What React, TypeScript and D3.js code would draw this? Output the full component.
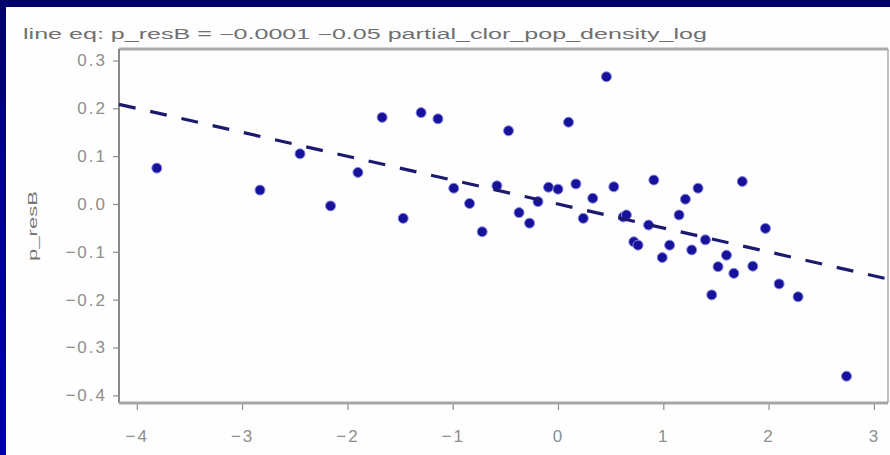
import React, { useEffect, useRef } from "react";
import * as d3 from "d3";

// partial residual points
const xVals = [
  -3.81, -2.83, -2.45, -2.16, -1.9, -1.67, -1.47, -1.3, -1.14, -0.99, -0.84,
  -0.72, -0.58, -0.47, -0.37, -0.27, -0.19, -0.09, 0.0, 0.1, 0.17, 0.24, 0.33,
  0.46, 0.53, 0.62, 0.65, 0.72, 0.76, 0.86, 0.91, 0.99, 1.06, 1.15, 1.21, 1.27,
  1.33, 1.4, 1.46, 1.52, 1.6, 1.67, 1.75, 1.85, 1.97, 2.1, 2.28, 2.74,
];
const yVals = [
  0.075, 0.029, 0.105, -0.004, 0.066, 0.181, -0.03, 0.191, 0.178, 0.033, 0.001,
  -0.058, 0.038, 0.153, -0.018, -0.04, 0.005, 0.035, 0.031, 0.171, 0.042, -0.03,
  0.012, 0.266, 0.036, -0.027, -0.023, -0.079, -0.086, -0.044, 0.05, -0.112,
  -0.086, -0.023, 0.01, -0.096, 0.033, -0.075, -0.19, -0.131, -0.107, -0.145,
  0.047, -0.13, -0.051, -0.167, -0.194, -0.36,
];
const yTicks = [0.3, 0.2, 0.1, 0.0, -0.1, -0.2, -0.3, -0.4];
const xTicks = [-4, -3, -2, -1, 0, 1, 2, 3];
const intercept = -0.0001;
const slope = -0.05;
const title =
  "line eq:  p_resB = \u22120.0001  \u22120.05 partial_clor_pop_density_log";

export default function App() {
  const ref = useRef<SVGSVGElement>(null);

  useEffect(() => {
    const svg = d3.select(ref.current);
    svg.selectAll("*").remove();

    const width = 890;
    const height = 455;
    const margin = { top: 49, left: 119, bottom: 52, right: 2 };

    const x = d3
      .scaleLinear()
      .domain([-4.169, 3.134])
      .range([margin.left, width - margin.right]);
    const y = d3
      .scaleLinear()
      .domain([-0.416, 0.324])
      .range([height - margin.bottom, margin.top]);

    // slide background
    const defs = svg.append("defs");
    const grad = defs
      .append("linearGradient")
      .attr("id", "slide")
      .attr("x1", 0)
      .attr("y1", 0)
      .attr("x2", 0)
      .attr("y2", 1);
    grad.append("stop").attr("offset", "0%").attr("stop-color", "#00006c");
    grad.append("stop").attr("offset", "100%").attr("stop-color", "#0000a6");
    svg
      .append("rect")
      .attr("width", width)
      .attr("height", height)
      .attr("fill", "url(#slide)");
    svg
      .append("rect")
      .attr("x", 6)
      .attr("y", 7)
      .attr("width", width - 6)
      .attr("height", height - 7)
      .attr("fill", "#fefefe");

    const font = "'Liberation Sans', Arial, sans-serif";
    const grey = "#8e8e8e";

    svg
      .append("text")
      .attr("x", 23)
      .attr("y", 39)
      .attr("font-family", font)
      .attr("font-size", 14)
      .attr("fill", "#707070")
      .attr("textLength", 684)
      .attr("lengthAdjust", "spacingAndGlyphs")
      .text(title);

    // frame
    const x0 = margin.left;
    const x1 = width - margin.right;
    const y0 = margin.top;
    const y1 = height - margin.bottom;
    svg
      .append("line")
      .attr("x1", x0)
      .attr("x2", x1)
      .attr("y1", y0)
      .attr("y2", y0)
      .attr("stroke", "#aaa")
      .attr("stroke-width", 3);
    svg
      .append("line")
      .attr("x1", x1)
      .attr("x2", x1)
      .attr("y1", y0)
      .attr("y2", y1)
      .attr("stroke", "#aaa")
      .attr("stroke-width", 1.5);

    // axes
    const yAxis = svg
      .append("g")
      .attr("transform", `translate(${x0},0)`)
      .call(
        d3
          .axisLeft(y)
          .tickValues(yTicks)
          .tickSize(6)
          .tickPadding(6)
          .tickFormat((d) => d3.format(".1f")(d as number).replace("-", "\u2212"))
      );
    const xAxis = svg
      .append("g")
      .attr("transform", `translate(0,${y1})`)
      .call(
        d3
          .axisBottom(x)
          .tickValues(xTicks)
          .tickSize(7)
          .tickPadding(20)
          .tickFormat((d) => d3.format("d")(d as number).replace("-", "\u2212"))
      );
    [yAxis, xAxis].forEach((a) => {
      a.select(".domain").remove();
      a.selectAll("line").attr("stroke", grey).attr("stroke-width", 1.2);
      a.selectAll("text")
        .attr("fill", grey)
        .attr("font-family", font)
        .attr("font-size", 17)
        .attr("letter-spacing", 2);
    });
    svg
      .append("line")
      .attr("x1", x0)
      .attr("x2", x0)
      .attr("y1", y0)
      .attr("y2", y1)
      .attr("stroke", "#888")
      .attr("stroke-width", 2);
    svg
      .append("line")
      .attr("x1", x0)
      .attr("x2", x1)
      .attr("y1", y1)
      .attr("y2", y1)
      .attr("stroke", "#a5a5a5")
      .attr("stroke-width", 3);

    svg
      .append("text")
      .attr("transform", `translate(37,${(y0 + y1) / 2}) rotate(-90)`)
      .attr("text-anchor", "middle")
      .attr("font-family", font)
      .attr("font-size", 13)
      .attr("fill", "#777")
      .attr("textLength", 70)
      .attr("lengthAdjust", "spacingAndGlyphs")
      .text("p_resB");

    // points
    const pts = xVals.map((v, i) => [v, yVals[i]]);
    svg
      .append("g")
      .selectAll("circle")
      .data(pts)
      .enter()
      .append("circle")
      .attr("cx", (d) => x(d[0]))
      .attr("cy", (d) => y(d[1]))
      .attr("r", 5)
      .attr("fill", "#16139a")
      .attr("stroke", "#8c8ae6")
      .attr("stroke-width", 1);

    // fitted line
    const dom = x.domain();
    const line = d3
      .line<number>()
      .x((d) => x(d))
      .y((d) => y(intercept + slope * d));
    svg
      .append("path")
      .attr("d", line(dom))
      .attr("fill", "none")
      .attr("stroke", "#1b1a6e")
      .attr("stroke-width", 3.2)
      .attr("stroke-dasharray", "17,15");
  }, []);

  return (
    <svg
      ref={ref}
      width={890}
      height={455}
      style={{ position: "fixed", top: 0, left: 0 }}
    />
  );
}
